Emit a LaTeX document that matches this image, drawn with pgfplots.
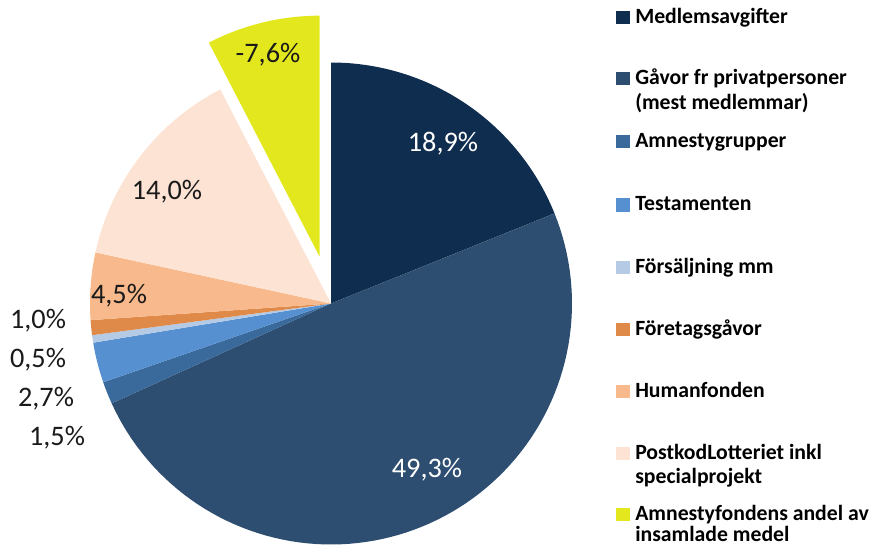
\documentclass[border=0pt]{standalone}
\usepackage{fontspec}
\setmainfont{Carlito}
\usepackage{pgfplots}
\usepackage{pgfplotstable}
\pgfplotsset{compat=1.18}
\definecolor{cA}{HTML}{0F2D4F}
\definecolor{cB}{HTML}{2D4E71}
\definecolor{cC}{HTML}{3A6A9B}
\definecolor{cD}{HTML}{5690D1}
\definecolor{cE}{HTML}{B5CBE5}
\definecolor{cF}{HTML}{E08A4A}
\definecolor{cG}{HTML}{F8B98C}
\definecolor{cH}{HTML}{FCE3D3}
\definecolor{cI}{HTML}{E3E81E}
\definecolor{txt}{HTML}{1A1A1A}
\pgfplotstableread{
val col explode
18.9 cA 0
49.3 cB 0
1.5 cC 0
2.7 cD 0
0.5 cE 0
1.0 cF 0
4.5 cG 0
14.0 cH 0
7.6 cI 0.2
}\piedata
\begin{document}
\begin{tikzpicture}
\begin{axis}[
  at={(0,0)}, anchor=center,
  scale only axis, width=361.5pt, height=361.5pt,
  xmin=-1, xmax=1, ymin=-1, ymax=1,
  hide axis, clip=false,
]
\pgfmathsetmacro\cum{0}
\pgfplotsforeachungrouped \i in {0,...,8}{%
  \pgfplotstablegetelem{\i}{val}\of\piedata \let\sv\pgfplotsretval
  \pgfplotstablegetelem{\i}{col}\of\piedata \let\scol\pgfplotsretval
  \pgfplotstablegetelem{\i}{explode}\of\piedata \let\sex\pgfplotsretval
  \pgfmathsetmacro\sa{90-3.6*\cum}
  \pgfmathsetmacro\sb{90-3.6*(\cum+\sv)}
  \pgfmathsetmacro\sm{(\sa+\sb)/2}
  \pgfmathsetmacro\sdx{\sex*cos(\sm)}
  \pgfmathsetmacro\sdy{\sex*sin(\sm)}
  \edef\doslice{\noexpand\addplot[fill=\scol, draw=none, domain=\sb:\sa, samples=90] ({\sdx+cos(x)},{\sdy+sin(x)}) -- (axis cs:\sdx,\sdy) -- cycle;}
  \doslice
  \pgfmathsetmacro\cum{\cum+\sv}
}
\end{axis}
\begin{scope}[shift={(-248.25pt,227.625pt)}, x=0.75pt, y=-0.75pt]
% slice labels
\begin{scope}[every node/.style={font=\fontsize{21.2}{25}\selectfont, anchor=base, inner sep=0pt}]
\node[text=white] at (443,152) {18,9\%};
\node[text=white] at (427,477) {49,3\%};
\node[text=txt] at (167,199) {14,0\%};
\node[text=txt] at (119,303) {4,5\%};
\node[text=txt] at (268,63) {-7,6\%};
\node[text=txt] at (38,328) {1,0\%};
\node[text=txt] at (38,367) {0,5\%};
\node[text=txt] at (46,406) {2,7\%};
\node[text=txt] at (57,445) {1,5\%};
\end{scope}
% legend
\begin{scope}[every node/.style={font=\bfseries\fontsize{16.3}{19}\selectfont, anchor=base west, inner sep=0pt, text=black}]
\foreach \y/\c/\t in {24/cA/Medlemsavgifter, 85/cB/Gåvor fr privatpersoner, 148/cC/Amnestygrupper, 211/cD/Testamenten, 273/cE/Försäljning mm, 335/cF/Företagsgåvor, 397/cG/Humanfonden, 459/cH/PostkodLotteriet inkl, 520/cI/Amnestyfondens andel av}{
  \fill[\c] (616,\y-12.5) rectangle (630,\y+0.5);
  \node at (635,\y) {\t};
}
\node at (635,110) {(mest medlemmar)};
\node at (635,483) {specialprojekt};
\node at (635,541) {insamlade medel};
\end{scope}
\pgfresetboundingbox
\useasboundingbox (0,0) rectangle (870,546);
\end{scope}
\end{tikzpicture}
\end{document}
